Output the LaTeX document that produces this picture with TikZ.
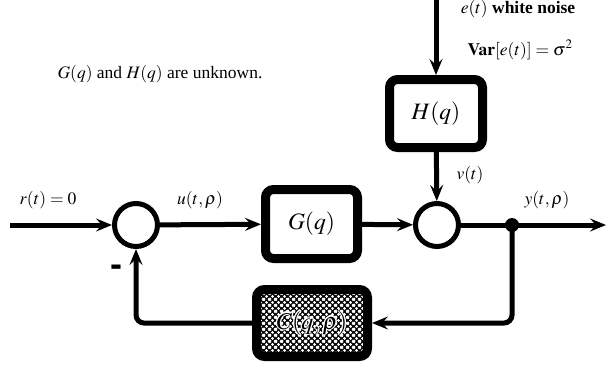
\documentclass[tikz,border=0pt]{standalone}
\usepackage{mathptmx}
\usepackage{fontspec}
\setmainfont{Liberation Serif}
\newfontfamily\signfont{Liberation Sans}
\usetikzlibrary{arrows.meta,patterns}

% black fill with a staggered grid of small white diamond holes
\def\diamondhole#1#2{%
  \pgfpathmoveto{\pgfpoint{#1pt+1.75pt}{#2pt}}%
  \pgfpathlineto{\pgfpoint{#1pt}{#2pt+1.75pt}}%
  \pgfpathlineto{\pgfpoint{#1pt-1.75pt}{#2pt}}%
  \pgfpathlineto{\pgfpoint{#1pt}{#2pt-1.75pt}}%
  \pgfpathclose}
\pgfdeclarepatternformonly{diamondholes}{\pgfqpoint{0pt}{0pt}}{\pgfqpoint{6pt}{6pt}}{\pgfqpoint{6pt}{6pt}}{%
  \diamondhole{0}{0}\diamondhole{6}{0}\diamondhole{0}{6}\diamondhole{6}{6}\diamondhole{3}{3}%
  \pgfusepath{fill}}

% text with a thin white halo round its glyphs, so it reads over the hatching
\newcommand\halotext[1]{\leavevmode
  \rlap{\color{white}%
    \foreach \dx/\dy in {1.3/0,0.92/0.92,0/1.3,-0.92/0.92,
                         -1.3/0,-0.92/-0.92,0/-1.3,0.92/-0.92}{%
      \rlap{\hspace*{\dx pt}\raisebox{\dy pt}{#1}}}}%
  #1}

\tikzset{
  lbl/.style={inner sep=0pt, font=\fontsize{17.5}{20}\selectfont},
  sumnode/.style={circle, draw, line width=5pt, minimum size=43pt, inner sep=0pt},
  block/.style={draw, line width=9pt, rounded corners=8pt, inner sep=0pt,
    fill=white, font=\fontsize{23.5}{26}\selectfont},
  conn/.style={line width=5pt, -{Stealth[length=16pt,width=13pt,inset=6pt]}},
}

\begin{document}
\begin{tikzpicture}[x=1pt,y=-1pt]
\useasboundingbox (0,0) rectangle (607,370);

% summing junctions
\node[sumnode] (s1) at (136,225) {};
\node[sumnode] (s2) at (437,225) {};

% blocks
\node[block, minimum width=92pt, minimum height=69pt] (G) at (311.5,224) {$G(q)$};
\node[block, minimum width=93pt, minimum height=68pt] (H) at (436,113.5) {$H(q)$};
\node[draw, line width=9pt, rounded corners=8pt, inner sep=0pt,
  minimum width=111pt, minimum height=67pt,
  preaction={fill=black}, pattern=diamondholes, pattern color=white] (C) at (312,323) {};
\node[text=black, inner sep=0pt, font=\fontsize{24}{26}\selectfont] (Clabel) at (C.center) {\halotext{$C(q,\rho)$}};

% signal end points
\coordinate (rin) at (10,225);
\coordinate (yout) at (606,225);
\coordinate (etop) at (436,-3);
\node[circle, fill, inner sep=0pt, minimum size=14pt] (tap) at (512,225) {};

% forward path
\draw[conn] (rin) -- (s1);
\draw[conn] (s1) -- (G);
\draw[conn] (G) -- (s2);
\draw[conn] (s2) -- (yout);
\draw[conn] (etop) -- (H);
\draw[conn] (H) -- (s2);

% feedback path
\draw[conn, rounded corners=8pt] (tap.center) |- (C.east);
\draw[conn, rounded corners=8pt] (C.west) -| (s1.south);

% signal labels
\node[lbl] (rlab) at (48,200) {$r(t)=0$};
\node[lbl] (ulab) at (200,200) {$u(t,\rho)$};
\node[lbl] (vlab) at (470,175) {$v(t)$};
\node[lbl] (ylab) at (547,200) {$y(t,\rho)$};
\node[lbl] (elab) at (518,9) {$e(t)$ \textbf{white noise}};
\node[lbl] (varlab) at (520,50) {$\mathbf{Var}[e(t)]=\sigma^2$};
\node[lbl] (note) at (160,74) {$G(q)$ and $H(q)$ are unknown.};
\node[anchor=base, inner sep=0pt, font=\signfont\bfseries\fontsize{36}{36}\selectfont] (minus) at (116.5,276) {-};
\end{tikzpicture}
\end{document}
